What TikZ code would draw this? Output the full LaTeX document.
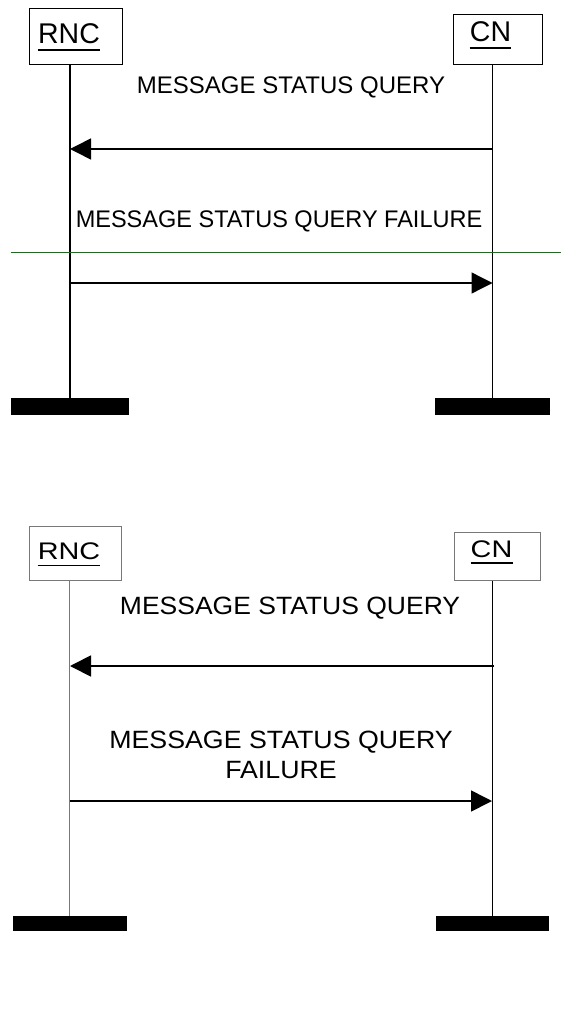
\documentclass[tikz,border=0pt]{standalone}
\usepackage{fontspec}
\usepackage{graphicx}
\setmainfont{Liberation Sans}
\usetikzlibrary{arrows.meta}
\definecolor{sepgreen}{RGB}{0,128,0}
\definecolor{thingray}{RGB}{120,120,120}
\tikzset{
  entbox/.style={draw=black, line width=1.3pt, inner sep=0pt, anchor=north west},
  entboxB/.style={draw=thingray, line width=1pt, inner sep=0pt, anchor=north west},
  entlabel/.style={inner sep=0pt, anchor=base, font=\fontsize{28.5}{32}\selectfont},
  entlabelB/.style={inner sep=0pt, anchor=base, font=\fontsize{24}{28}\selectfont},
  ul/.style={line width=1.5pt},
  life/.style={line width=1.2pt},
  lifeB/.style={line width=0.9pt},
  bar/.style={fill=black, draw=none, inner sep=0pt, minimum width=118pt, minimum height=17pt, anchor=north},
  msg/.style={line width=1.6pt, -{Triangle[length=21pt,width=21pt]}},
  msglabel/.style={inner sep=0pt, anchor=base, font=\fontsize{24}{28}\selectfont},
  msglabelB/.style={inner sep=0pt, anchor=base, font=\fontsize{25}{29}\selectfont, align=center},
}
\begin{document}
\begin{tikzpicture}[x=1pt,y=-1pt]
\useasboundingbox (0,0) rectangle (561,1016);
% ---------- top diagram ----------
\node[entbox, minimum width=93pt, minimum height=56pt] (rncA) at (29,8) {};
\node[entbox, minimum width=89pt, minimum height=50pt] (cnA) at (453,14) {};
\node[entlabel] (rncAt) at (69,44) {RNC};
\node[entlabel] (cnAt) at (490.5,42) {CN};
\draw[ul] ([yshift=-6pt]rncAt.base west) -- ([yshift=-6pt]rncAt.base east);
\draw[ul] ([yshift=-6pt]cnAt.base west) -- ([yshift=-6pt]cnAt.base east);
\node[bar] (rncAbar) at (70,398) {};
\node[bar, minimum width=115pt] (cnAbar) at (492.5,398) {};
\draw[life] (rncAbar.north |- rncA.south) -- (rncAbar.north);
\draw[life] (cnAbar.north |- cnA.south) -- (cnAbar.north);
\coordinate (a1s) at (492.5,149);
\coordinate (a1e) at (70,149);
\coordinate (a2s) at (70,283);
\coordinate (a2e) at (492.5,283);
\node[msglabel] (m1) at (291,94) {MESSAGE STATUS QUERY};
\draw[msg] (a1s) -- (a1e);
\node[msglabel] (m2) at (279,228) {\scalebox{0.98}[1]{MESSAGE STATUS QUERY FAILURE}};
\coordinate (gl) at (11,252);
\coordinate (gr) at (561,252);
\draw[sepgreen, line width=1pt] (gl) -- (gr);
\draw[msg, line width=1.3pt] (a2s) -- (a2e);
% ---------- bottom diagram ----------
\node[entboxB, minimum width=92pt, minimum height=54pt] (rncB) at (29,526) {};
\node[entboxB, minimum width=86pt, minimum height=48pt] (cnB) at (454,532) {};
\node[entlabelB] (rncBt) at (69,559) {\scalebox{1.2}[1]{RNC}};
\node[entlabelB] (cnBt) at (491.5,557) {\scalebox{1.2}[1]{CN}};
\draw[ul] ([yshift=-6.5pt]rncBt.base west) -- ([yshift=-6.5pt]rncBt.base east);
\draw[ul] ([yshift=-6pt]cnBt.base west) -- ([yshift=-6pt]cnBt.base east);
\node[bar, minimum width=114pt, minimum height=15pt] (rncBbar) at (69.5,916) {};
\node[bar, minimum width=113pt, minimum height=15pt] (cnBbar) at (492,916) {};
\draw[lifeB, thingray] (rncBbar.north |- rncB.south) -- (rncBbar.north);
\draw[lifeB] (cnBbar.north |- cnB.south) -- (cnBbar.north);
\coordinate (b1s) at (494,666);
\coordinate (b1e) at (70,666);
\coordinate (b2s) at (70,801);
\coordinate (b2e) at (492,801);
\node[msglabelB] (n1) at (290,614) {\scalebox{1.06}[1]{MESSAGE STATUS QUERY}};
\draw[msg, line width=1.8pt] (b1s) -- (b1e);
\node[msglabelB] (n2) at (281,748) {\scalebox{1.07}[1]{MESSAGE STATUS QUERY}};
\node[msglabelB] (n3) at (281,778) {\scalebox{1.07}[1]{FAILURE}};
\draw[msg, line width=1.6pt] (b2s) -- (b2e);
\end{tikzpicture}
\end{document}
